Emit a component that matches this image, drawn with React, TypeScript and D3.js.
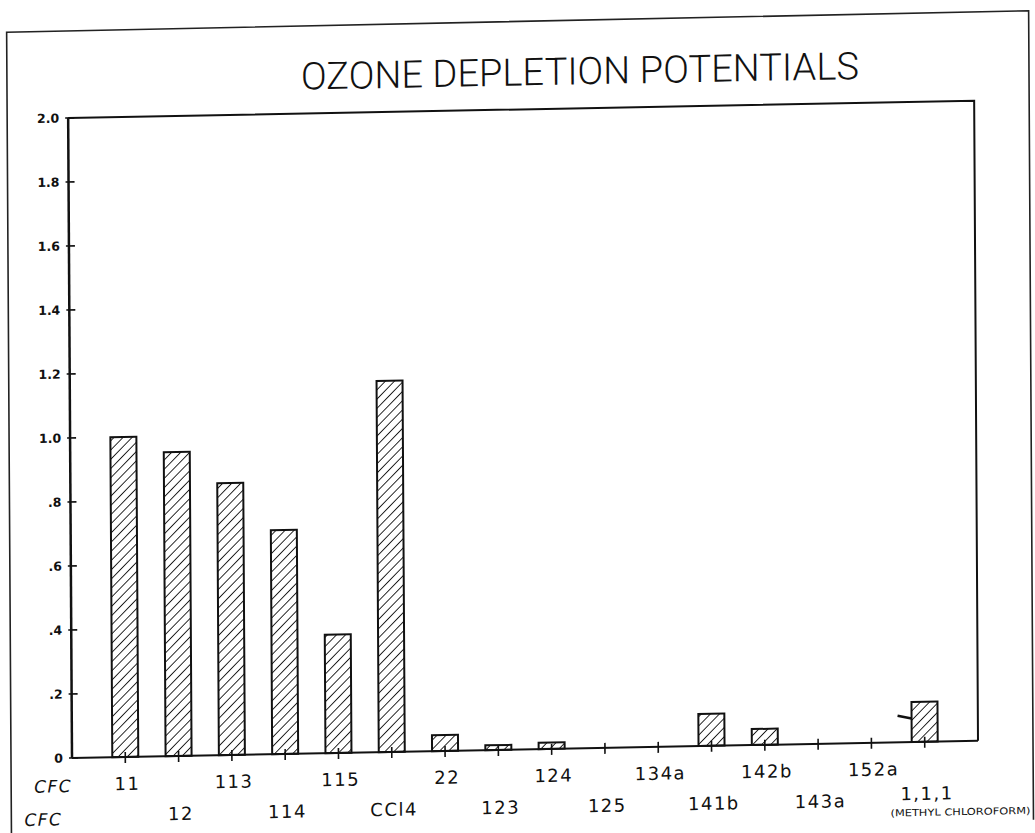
import React from "react";
import * as d3 from "d3";

// compounds along the x axis, in drawing order
const compounds = ["11", "12", "113", "114", "115", "CCl4", "22", "123", "124", "125", "134a", "141b", "142b", "143a", "152a", "1,1,1"];
// ozone depletion potential
const odp = [1.0, 0.95, 0.85, 0.7, 0.37, 1.16, 0.05, 0.015, 0.02, 0, 0, 0.1, 0.05, 0, 0, 0.125];
const yTicks = [0, 0.2, 0.4, 0.6, 0.8, 1.0, 1.2, 1.4, 1.6, 1.8, 2.0];
const yTickLabels = ["0", ".2", ".4", ".6", ".8", "1.0", "1.2", "1.4", "1.6", "1.8", "2.0"];
// lower bound marker drawn beside the methyl chloroform bar
const rangeMark = { compound: "1,1,1", value: 0.08 };

const W = 1035;
const H = 833;
const left = 70;
const right = 976;
const top = 118;
const bottom = 758;

const labelFont = "'DejaVu Sans', 'Liberation Sans', sans-serif";

export default function App() {
  const x = d3.scalePoint<string>().domain(compounds).range([left, right]).padding(1);
  const y = d3.scaleLinear().domain([0, 2]).range([bottom, top]);
  const barW = 26;

  // the scanned sheet is slightly skewed: keep the axis corner about fixed
  const sx = 0.006;
  const sy = -0.019;
  const tx = -sx * bottom + 2;
  const ty = -sy * left;

  const mx = x(rangeMark.compound)! - barW / 2;

  return (
    <svg
      width={W}
      height={H}
      style={{ position: "absolute", left: 0, top: 0, background: "#fff" }}
    >
      <defs>
        <pattern id="hatch" patternUnits="userSpaceOnUse" width={6.5} height={6.5} patternTransform="rotate(45)">
          <line x1={0} y1={0} x2={0} y2={6.5} stroke="#111" strokeWidth={1.8} />
        </pattern>
      </defs>
      <g transform={`matrix(1,${sy},${sx},1,${tx},${ty})`}>
        {/* outer sheet frame */}
        <path d={`M9,${H + 5} V31 L1031,29 V${H + 5}`} fill="none" stroke="#222" strokeWidth={1.6} />

        <text
          x={582}
          y={94}
          textAnchor="middle"
          fontFamily="Roboto, 'Open Sans', 'DejaVu Sans', sans-serif"
          fontWeight={300}
          fontSize={38}
          textLength={558}
          lengthAdjust="spacing"
          fill="#111"
        >
          OZONE DEPLETION POTENTIALS
        </text>

        {/* plot box */}
        <path d={`M${left},${top} H${right} V${bottom}`} fill="none" stroke="#111" strokeWidth={2} />
        <line x1={left} x2={left} y1={top} y2={bottom} stroke="#111" strokeWidth={2.5} />
        <line x1={left} x2={right} y1={bottom} y2={bottom} stroke="#111" strokeWidth={2} />

        {yTicks.map((t, i) => (
          <g key={t}>
            <line x1={left - 3} x2={left + 6} y1={y(t)} y2={y(t)} stroke="#111" strokeWidth={1.6} />
            <text
              x={left - 9}
              y={y(t) + 4.5}
              textAnchor="end"
              fontFamily={labelFont}
              fontWeight="bold"
              fontSize={12.5}
              fill="#111"
            >
              {yTickLabels[i]}
            </text>
          </g>
        ))}

        {compounds.map((c, i) => {
          const cx = x(c)!;
          const v = odp[i];
          const ly = i % 2 === 0 ? 791 : c === "1,1,1" ? 816 : 822;
          return (
            <g key={c}>
              {v > 0 && (
                <rect
                  x={cx - barW / 2}
                  y={y(v)}
                  width={barW}
                  height={y(0) - y(v)}
                  fill="url(#hatch)"
                  stroke="#111"
                  strokeWidth={2}
                />
              )}
              <line x1={cx} x2={cx} y1={bottom - 5} y2={bottom + 6} stroke="#111" strokeWidth={1.6} />
              <text
                x={cx + 2}
                y={ly}
                textAnchor="middle"
                fontFamily={labelFont}
                fontSize={18}
                letterSpacing={1.5}
                fill="#111"
              >
                {c}
              </text>
            </g>
          );
        })}

        <line
          x1={mx - 14}
          x2={mx}
          y1={y(rangeMark.value) - 1}
          y2={y(rangeMark.value) + 2}
          stroke="#111"
          strokeWidth={2.5}
        />

        <text x={888} y={832} fontFamily={labelFont} fontSize={9.5} textLength={140} lengthAdjust="spacingAndGlyphs" fill="#111">
          (METHYL CHLOROFORM)
        </text>

        <text x={32} y={792} fontFamily={labelFont} fontStyle="italic" fontSize={17} letterSpacing={1.5} fill="#111">
          CFC
        </text>
        <text x={22} y={825} fontFamily={labelFont} fontStyle="italic" fontSize={17} letterSpacing={1.5} fill="#111">
          CFC
        </text>
      </g>
    </svg>
  );
}
